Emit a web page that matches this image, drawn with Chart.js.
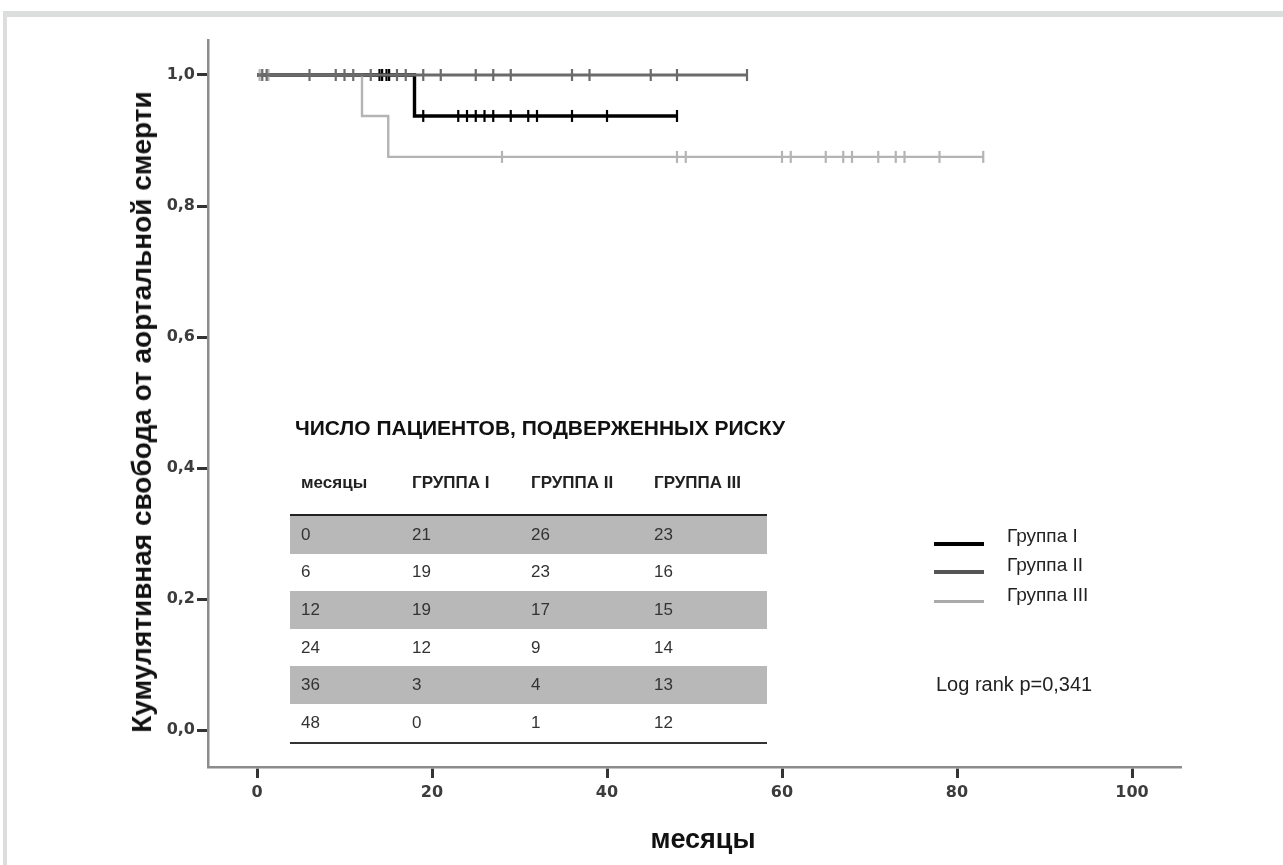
<!DOCTYPE html>
<html lang="ru">
<head>
<meta charset="UTF-8">
<title>Кумулятивная свобода от аортальной смерти</title>
<style>
  body { margin: 0; background: #fff; font-family: "Liberation Sans", Arial, sans-serif; }
  #wrap { position: relative; width: 1283px; height: 865px; overflow: hidden; background: #fff; }
  #frame { position: absolute; left: 3px; top: 11px; width: 1300px; height: 900px;
           border-top: 6px solid #dcdede; border-left: 4px solid #dcdede; }
  #chart { position: absolute; left: 0; top: 0; }
  .ytitle { position: absolute; left: 142px; top: 412px; transform: translate(-50%, -50%) rotate(-90deg);
            white-space: nowrap; font-weight: bold; font-size: 28px; color: #111; }
  .xtitle { position: absolute; left: 703px; top: 839px; transform: translate(-50%, -50%);
            white-space: nowrap; font-weight: bold; font-size: 27px; color: #111; }
  .risk-title { position: absolute; left: 295px; top: 428px; transform: translateY(-50%);
                font-weight: bold; font-size: 21px; white-space: nowrap; color: #111; }
  #risk { position: absolute; left: 290px; top: 465px; width: 477px; border-collapse: collapse; }
  #risk th { font-weight: bold; font-size: 17px; text-align: left; height: 50px; padding: 8px 0 0 0; color: #222;
             vertical-align: top; box-sizing: border-box; }
  #risk td { font-size: 17px; height: 37.6px; padding: 0; color: #333; vertical-align: middle; }
  #risk tbody { border-top: 2px solid #222; border-bottom: 2px solid #333; }
  #risk tbody tr:nth-child(odd) td { background: #b8b8b8; }
  #risk .c0 { padding-left: 11px; width: 111px; }
  #risk .c1 { width: 119px; }
  #risk .c2 { width: 123px; }
  .leg { position: absolute; left: 934px; width: 50px; }
  .legtext { position: absolute; left: 1007px; transform: translateY(-50%); font-size: 19px; color: #222; white-space: nowrap; }
  .logrank { position: absolute; left: 936px; top: 684px; transform: translateY(-50%); font-size: 20px; color: #222; white-space: nowrap; }
</style>
<script src="https://cdn.jsdelivr.net/npm/chart.js"></script>
</head>
<body>
<div id="wrap">
  <div id="frame"></div>
  <canvas id="chart" width="1283" height="865"></canvas>
  <div class="ytitle">Кумулятивная свобода от аортальной смерти</div>
  <div class="xtitle">месяцы</div>
  <div class="risk-title">ЧИСЛО ПАЦИЕНТОВ, ПОДВЕРЖЕННЫХ РИСКУ</div>
  <table id="risk"></table>
  <div id="legend"></div>
  <div class="logrank" id="logrank"></div>
</div>
<script>
// Kaplan-Meier steps: time of event and survival after it
const g1Times = [0, 18, 48];
const g1Surv = [1, 0.9375, 0.9375];
const g2Times = [0, 56];
const g2Surv = [1, 1];
const g3Times = [0, 12, 15, 83];
const g3Surv = [1, 0.9375, 0.875, 0.875];

// censored observations (months)
const g1Censored = [14, 14.3, 14.8, 15.1, 19, 23, 24, 25, 26, 27, 29, 31, 32, 36, 40, 48];
const g2Censored = [0.6, 1.1, 6, 9, 10, 11, 13, 16, 17, 19, 21, 25, 27, 29, 36, 38, 45, 48, 56];
const g3Censored = [0.3, 1.3, 28, 48, 49, 60, 61, 65, 67, 68, 71, 73, 74, 78, 83];

const xTicks = [0, 20, 40, 60, 80, 100];
const yTicks = [0, 0.2, 0.4, 0.6, 0.8, 1.0];

// number at risk table
const riskHeader = ['месяцы', 'ГРУППА I', 'ГРУППА II', 'ГРУППА III'];
const riskMonths = [0, 6, 12, 24, 36, 48];
const riskG1 = [21, 19, 19, 12, 3, 0];
const riskG2 = [26, 23, 17, 9, 4, 1];
const riskG3 = [23, 16, 15, 14, 13, 12];

const groupNames = ['Группа I', 'Группа II', 'Группа III'];
const logRankText = 'Log rank p=0,341';

const colors = ['#000000', '#6b6b6b', '#b4b4b4'];
const widths = [3.4, 2.8, 2.4];

function survAt(times, surv, t) {
    let s = surv[0];
    for (let i = 0; i < times.length; i++) {
        if (times[i] <= t) s = surv[i];
    }
    return s;
}

const curves = [[g1Times, g1Surv, g1Censored], [g2Times, g2Surv, g2Censored], [g3Times, g3Surv, g3Censored]];
const drawOrder = [3, 1, 2]; // lower = on top
const datasets = [];
curves.forEach(([times, surv, cens], i) => {
    datasets.push({
        type: 'line',
        label: groupNames[i],
        data: times.map((t, k) => ({ x: t, y: surv[k] })),
        stepped: 'before',
        borderColor: colors[i],
        borderWidth: widths[i],
        pointRadius: 0,
        fill: false,
        order: drawOrder[i]
    });
    datasets.push({
        type: 'scatter',
        label: groupNames[i] + ' цензур.',
        data: cens.map(t => ({ x: t, y: survAt(times, surv, t) })),
        pointStyle: 'line',
        rotation: 90,
        pointRadius: 6,
        pointBorderWidth: 2.2,
        borderColor: colors[i],
        backgroundColor: colors[i],
        order: drawOrder[i]
    });
});

const tickFont = { family: 'DejaVu Sans', weight: 'bold', size: 16 };

new Chart(document.getElementById('chart').getContext('2d'), {
    data: { datasets: datasets },
    options: {
        responsive: false,
        animation: false,
        layout: { padding: { top: 40, right: 102, left: 0, bottom: 0 } },
        plugins: { legend: { display: false }, tooltip: { enabled: false } },
        scales: {
            x: {
                type: 'linear',
                min: -5.6,
                max: 105.6,
                afterBuildTicks: s => { s.ticks = xTicks.map(v => ({ value: v })); },
                afterFit: s => { s.height = 98; },
                grid: { drawOnChartArea: false, tickLength: 11, tickColor: '#333', tickWidth: 3 },
                border: { color: '#8c8c8c', width: 2.5 },
                ticks: { font: tickFont, color: '#3c3c3c', padding: 5, maxRotation: 0, autoSkip: false }
            },
            y: {
                type: 'linear',
                min: -0.056,
                max: 1.0534,
                afterBuildTicks: s => { s.ticks = yTicks.map(v => ({ value: v })); },
                afterFit: s => { s.width = 208; },
                grid: { drawOnChartArea: false, tickLength: 11, tickColor: '#333', tickWidth: 3 },
                border: { color: '#8c8c8c', width: 2.5 },
                ticks: { font: tickFont, color: '#3c3c3c', padding: 2, autoSkip: false,
                         callback: v => v.toFixed(1).replace('.', ',') }
            }
        }
    }
});

// risk table
const table = document.getElementById('risk');
let html = '<thead><tr>' + riskHeader.map((h, i) => `<th class="c${i}">${h}</th>`).join('') + '</tr></thead><tbody>';
riskMonths.forEach((m, i) => {
    html += `<tr><td class="c0">${m}</td><td class="c1">${riskG1[i]}</td><td class="c2">${riskG2[i]}</td><td class="c3">${riskG3[i]}</td></tr>`;
});
table.innerHTML = html + '</tbody>';

// legend
const legTops = [544, 572, 601];
const legText = [536, 565, 595];
const legWidths = [4, 3.5, 3];
const legColors = ['#000000', '#555555', '#aaaaaa'];
let lh = '';
groupNames.forEach((g, i) => {
    lh += `<div class="leg" style="top:${legTops[i] - legWidths[i] / 2}px;height:${legWidths[i]}px;background:${legColors[i]}"></div>`;
    lh += `<div class="legtext" style="top:${legText[i]}px">${g}</div>`;
});
document.getElementById('legend').innerHTML = lh;
document.getElementById('logrank').textContent = logRankText;
</script>
</body>
</html>
